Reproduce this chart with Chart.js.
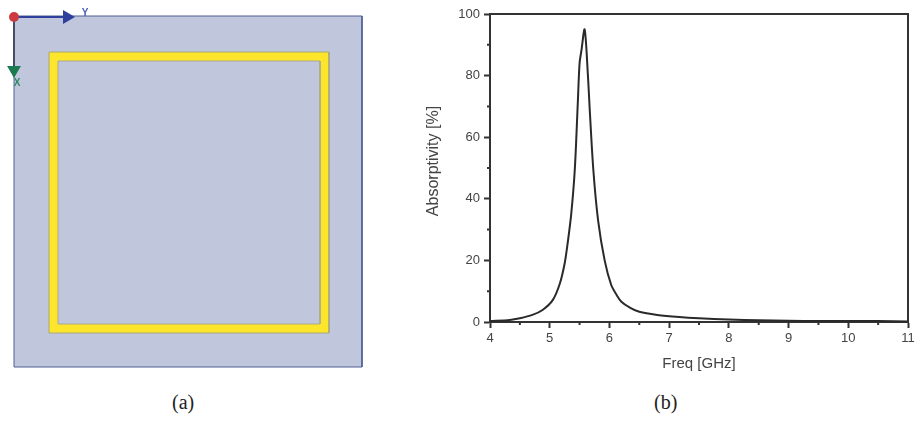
<!DOCTYPE html>
<html>
<head>
<meta charset="utf-8">
<title>Absorptivity</title>
<script src="https://cdn.jsdelivr.net/npm/chart.js@4"></script>
<style>
html, body { margin: 0; padding: 0; background: #fff; }
body { width: 915px; height: 421px; overflow: hidden; position: relative; }
.box { position: absolute; }
.cap { position: absolute; top: 391px; font: 20px "Liberation Serif", serif; color: #222; }
</style>
</head>
<body>
<div class="box" style="left:-10px;top:-10px;width:400px;height:400px"><canvas id="unitCell"></canvas></div>
<div class="box" style="left:415px;top:0;width:520px;height:385px"><canvas id="absChart"></canvas></div>
<div class="cap" style="left:172px">(a)</div>
<div class="cap" style="left:654px">(b)</div>
<script>
// absorptivity curve
const freq = [4, 4.33, 4.5, 4.71, 4.88, 5.05, 5.17, 5.25, 5.3, 5.36, 5.42, 5.47, 5.5, 5.53, 5.585, 5.64, 5.67, 5.73, 5.81, 5.92, 6.03, 6.12, 6.2, 6.35, 6.5, 6.8, 7.17, 7.5, 8, 8.5, 9, 9.5, 10, 10.5, 11];
const absorb = [0.3, 0.65, 1.2, 2.3, 3.9, 7.1, 12.5, 19, 25.5, 35, 49.5, 71, 84, 88, 95, 80, 69, 49.5, 33, 20, 12, 8.8, 6.6, 4.6, 3.3, 2.3, 1.6, 1.2, 0.8, 0.6, 0.4, 0.3, 0.3, 0.3, 0.2];
const xMinor = [4.5, 5.5, 6.5, 7.5, 8.5, 9.5, 10.5];
const yMinor = [10, 30, 50, 70, 90];

// schematic outlines of panel (a), in picture units
const substrateX = [14, 362, 362, 14, 14];
const substrateY = [16, 16, 367, 367, 16];
const ringOuterX = [49, 329, 329, 49, 49];
const ringOuterY = [52, 52, 333, 333, 52];
const ringInnerX = [58, 320, 320, 58, 58];
const ringInnerY = [61, 61, 324, 324, 61];
const axisYX = [14, 67];
const axisYY = [17, 17];
const axisXX = [14, 14];
const axisXY = [17, 70];

function pts(xs, ys) {
    return xs.map(function (x, i) { return { x: x, y: ys[i] }; });
}

function shape(xs, ys, fillCol, lineCol, order) {
    return {
        data: pts(xs, ys), showLine: true, fill: 'shape', backgroundColor: fillCol,
        borderColor: lineCol, borderWidth: 1, pointRadius: 0, order: order
    };
}

function arrow(xs, ys, lineCol, headCol, rot, order) {
    return {
        data: pts(xs, ys), showLine: true, borderColor: lineCol, backgroundColor: headCol, borderWidth: 2,
        pointBorderColor: headCol, pointBorderWidth: 0,
        pointStyle: 'triangle', pointRadius: [0, 8], pointRotation: rot, order: order
    };
}

const axisLetters = {
    id: 'axisLetters',
    afterDraw: function (chart) {
        const c = chart.ctx;
        c.save();
        c.font = 'bold 10px "Liberation Sans"';
        c.textAlign = 'center';
        c.textBaseline = 'middle';
        c.fillStyle = '#4a5fb0';
        c.fillText('Y', chart.scales.x.getPixelForValue(85), chart.scales.y.getPixelForValue(13));
        c.fillStyle = '#2f8a62';
        c.fillText('X', chart.scales.x.getPixelForValue(17), chart.scales.y.getPixelForValue(83));
        c.restore();
    }
};

new Chart(document.getElementById('unitCell'), {
    type: 'scatter',
    data: {
        datasets: [
            shape(substrateX, substrateY, '#c0c7dc', '#4f5f96', 6),
            shape(ringOuterX, ringOuterY, '#fde52c', '#a8a87a', 5),
            shape(ringInnerX, ringInnerY, '#c0c7dc', '#a9aa8f', 4),
            arrow(axisYX, axisYY, '#2f3f9c', '#2f3f9c', 90, 3),
            arrow(axisXX, axisXY, '#444c66', '#1c7a50', 180, 2),
            { data: [{ x: 14, y: 17 }], pointRadius: 5, backgroundColor: '#cc3a40', borderWidth: 0, order: 1 }
        ]
    },
    options: {
        responsive: true,
        maintainAspectRatio: false,
        animation: false,
        plugins: { legend: { display: false }, tooltip: { enabled: false } },
        layout: { padding: 10 },
        scales: {
            x: { display: false, type: 'linear', min: 0, max: 380 },
            y: { display: false, type: 'linear', min: 0, max: 380, reverse: true }
        }
    },
    plugins: [axisLetters]
});

// minor ticks, the closing top/right lines and the y title (it sits above the axis centre)
const frame = {
    id: 'frame',
    afterDraw: function (chart) {
        const c = chart.ctx;
        const a = chart.chartArea;
        c.save();
        c.strokeStyle = '#333';
        c.lineWidth = 2;
        c.beginPath();
        c.moveTo(a.left, a.top);
        c.lineTo(a.right, a.top);
        c.lineTo(a.right, a.bottom);
        xMinor.forEach(function (v) {
            const px = chart.scales.x.getPixelForValue(v);
            c.moveTo(px, a.bottom);
            c.lineTo(px, a.bottom + 3);
        });
        yMinor.forEach(function (v) {
            const py = chart.scales.y.getPixelForValue(v);
            c.moveTo(a.left, py);
            c.lineTo(a.left - 3, py);
        });
        c.stroke();
        c.translate(19, 161);
        c.rotate(-Math.PI / 2);
        c.font = '16px "Liberation Sans"';
        c.fillStyle = '#444';
        c.textAlign = 'center';
        c.textBaseline = 'middle';
        c.fillText('Absorptivity [%]', 0, 0);
        c.restore();
    }
};

new Chart(document.getElementById('absChart'), {
    type: 'scatter',
    data: {
        datasets: [{
            data: pts(freq, absorb),
            showLine: true,
            borderColor: '#2a2a2a',
            borderWidth: 2,
            pointRadius: 0,
            tension: 0.3,
            clip: false
        }]
    },
    options: {
        responsive: true,
        maintainAspectRatio: false,
        animation: false,
        plugins: { legend: { display: false }, tooltip: { enabled: false } },
        layout: { padding: { top: 14, right: 27, left: 0, bottom: 0 } },
        scales: {
            x: {
                type: 'linear', min: 4, max: 11,
                afterFit: function (s) { s.height = 63; },
                border: { color: '#333', width: 2 },
                grid: { drawOnChartArea: false, tickColor: '#333', tickWidth: 2, tickLength: 6 },
                ticks: { stepSize: 1, color: '#444', maxRotation: 0, padding: 3, font: { family: 'Liberation Sans', size: 13 } },
                title: { display: true, text: 'Freq [GHz]', color: '#444', padding: { top: 0, bottom: 12 }, font: { family: 'Liberation Sans', size: 15 } }
            },
            y: {
                type: 'linear', min: 0, max: 100,
                afterFit: function (s) { s.width = 75; },
                border: { color: '#333', width: 2 },
                grid: { drawOnChartArea: false, tickColor: '#333', tickWidth: 2, tickLength: 6 },
                ticks: { stepSize: 20, color: '#444', padding: 4, font: { family: 'Liberation Sans', size: 13 } }
            }
        }
    },
    plugins: [frame]
});
</script>
</body>
</html>
